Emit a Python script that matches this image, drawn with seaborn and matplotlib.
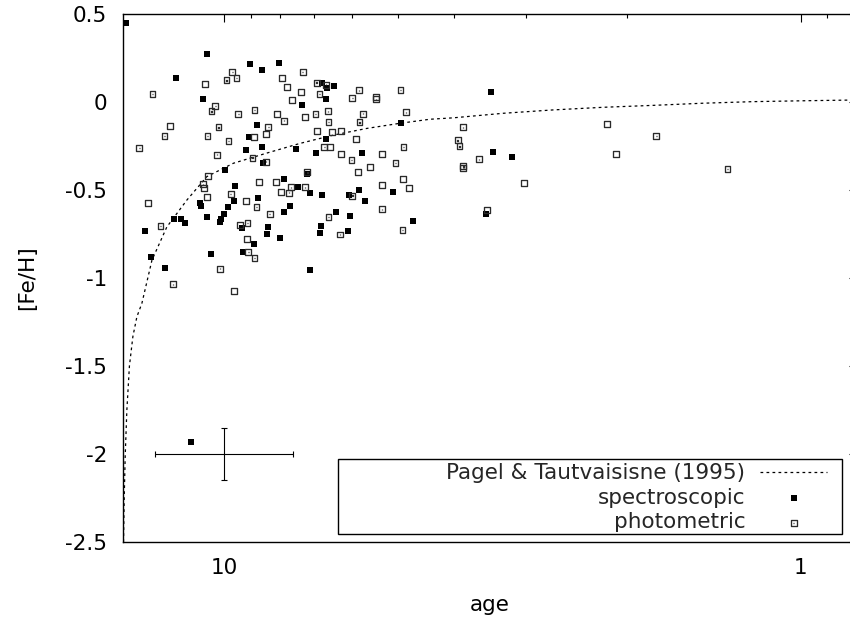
import numpy as np
import pandas as pd
import matplotlib
matplotlib.use("Agg")
import matplotlib.pyplot as plt
import seaborn as sns
from matplotlib.path import Path
from matplotlib.patches import Rectangle
from matplotlib.ticker import FixedLocator, FuncFormatter, NullFormatter

# ---------------- data ----------------
spec_age = [14.81, 10.73, 9.04, 8.60, 8.04, 12.13, 6.77, 6.63, 6.46, 10.90, 6.66, 7.33,
            8.79, 9.07, 6.66, 8.60, 9.17, 7.51, 6.93, 5.78, 8.57, 9.97, 7.18, 7.89,
            4.93, 9.58, 8.75, 7.46, 7.10, 6.78, 6.08, 5.85, 5.70, 5.10, 11.03, 10.99,
            9.63, 9.87, 7.89, 7.70, 10.02, 10.14, 10.19, 10.72, 12.24, 11.90, 11.71, 6.41,
            6.06, 4.71, 13.74, 9.32, 8.40, 8.44, 8.02, 6.80, 6.83, 6.11, 8.89, 9.29,
            10.56, 13.40, 12.69, 7.10, 11.43, 3.45, 3.42, 3.17, 3.52]
spec_feh = [0.45, 0.27, 0.214, 0.184, 0.22, 0.138, 0.11, 0.08, 0.093, 0.019, 0.019, -0.015,
            -0.129, -0.197, -0.209, -0.254, -0.271, -0.265, -0.288, -0.288, -0.345, -0.385, -0.409, -0.436,
            -0.118, -0.476, -0.544, -0.481, -0.519, -0.527, -0.527, -0.498, -0.561, -0.51, -0.572, -0.589,
            -0.561, -0.595, -0.623, -0.589, -0.635, -0.663, -0.68, -0.652, -0.663, -0.663, -0.686, -0.623,
            -0.646, -0.674, -0.731, -0.714, -0.709, -0.748, -0.771, -0.703, -0.743, -0.731, -0.805, -0.851,
            -0.862, -0.879, -0.941, -0.953, -1.93, 0.059, -0.282, -0.311, -0.635]

phot_age = [13.33, 14.05, 12.44, 12.71, 13.57, 12.91, 12.27, 10.81, 9.69, 9.92, 9.53, 10.53,
            10.37, 10.24, 10.70, 9.84, 10.30, 9.46, 8.87, 8.39, 8.48, 8.88, 8.94, 8.48,
            10.67, 10.89, 10.84, 10.72, 9.76, 9.18, 8.80, 8.35, 8.71, 8.13, 7.98, 7.73,
            7.66, 7.24, 7.18, 9.39, 9.12, 9.14, 9.09, 8.87, 10.19, 9.63, 7.94, 7.32,
            7.79, 7.63, 7.36, 8.11, 7.88, 7.24, 6.95, 6.92, 6.66, 6.84, 6.62, 6.60,
            6.91, 6.50, 6.27, 6.71, 6.56, 6.27, 6.02, 5.87, 5.59, 6.00, 5.84, 5.46,
            5.46, 5.75, 5.83, 5.92, 5.33, 5.05, 4.95, 4.84, 4.89, 5.33, 4.90, 4.79,
            5.33, 6.00, 6.60, 6.31, 4.91, 3.86, 3.94, 3.91, 3.62, 3.85, 3.85, 3.02,
            3.50, 2.17, 2.09, 1.78, 1.34]
phot_feh = [0.044, -0.26, -0.138, -0.193, -0.574, -0.703, -1.036, 0.101, 0.169, 0.123, 0.138, -0.053,
            -0.023, -0.144, -0.195, -0.22, -0.299, -0.07, -0.047, -0.142, -0.182, -0.199, -0.316, -0.339,
            -0.422, -0.468, -0.49, -0.538, -0.521, -0.561, -0.597, -0.638, -0.455, -0.453, -0.51, -0.515,
            -0.485, -0.485, -0.40, -0.70, -0.689, -0.777, -0.851, -0.888, -0.947, -1.074, 0.136, 0.17,
            0.084, 0.011, 0.055, -0.07, -0.106, -0.087, -0.07, 0.11, 0.099, 0.044, -0.053, -0.115,
            -0.165, -0.172, -0.166, -0.254, -0.254, -0.295, -0.33, -0.398, -0.368, 0.024, 0.066, 0.028,
            0.015, -0.066, -0.116, -0.212, -0.295, -0.348, 0.068, -0.059, -0.256, -0.472, -0.439, -0.487,
            -0.61, -0.532, -0.653, -0.753, -0.726, -0.144, -0.218, -0.252, -0.326, -0.366, -0.375, -0.459,
            -0.612, -0.125, -0.295, -0.195, -0.382]

model_age = [14.97, 14.93, 14.87, 14.77, 14.62, 14.42, 14.19, 13.91, 13.36, 12.59, 11.62, 10.73,
             9.65, 8.44, 7.39, 6.47, 5.66, 4.96, 4.40, 4.01, 3.28, 2.69, 2.20, 1.80,
             1.48, 1.21, 0.99, 0.82, 0.80]
model_feh = [-2.50, -2.26, -2.015, -1.75, -1.50, -1.333, -1.22, -1.144, -0.898, -0.71, -0.557, -0.424,
             -0.348, -0.29, -0.235, -0.188, -0.15, -0.121, -0.098, -0.09, -0.064, -0.045, -0.030, -0.019,
             -0.007, 0.002, 0.007, 0.011, 0.012]

err_age = [10.0]
err_feh = [-2.0]
err_age_lo = [2.41]
err_age_hi = [3.19]
err_feh_pm = [0.15]

x_major = [10, 1]
x_minor = [9, 8, 7, 6, 5, 4, 3, 2, 0.9, 0.8]
y_ticks = [0.5, 0, -0.5, -1, -1.5, -2, -2.5]

label_model = "Pagel & Tautvaisisne (1995)"
label_spec = "spectroscopic"
label_phot = "photometric"

# ---------------- style ----------------
sns.set_style("white")
plt.rcParams["font.family"] = ["DejaVu Sans"]
plt.rcParams["font.size"] = 15.5
plt.rcParams["axes.unicode_minus"] = False

W, H = 850, 621
fig = plt.figure(figsize=(W / 100, H / 100), dpi=100)
fig.patch.set_facecolor("white")
ax_l, ax_r, ax_t, ax_b = 123, 856.6, 14, 542
ax = fig.add_axes([ax_l / W, (H - ax_b) / H, (ax_r - ax_l) / W, (ax_b - ax_t) / H])
ax.set_facecolor("white")

# open square with a centre dot (gnuplot style)
box_dot = Path(
    [(-1, -1), (1, -1), (1, 1), (-1, 1), (-1, -1),
     (-0.06, -0.06), (0.06, -0.06), (0.06, 0.06), (-0.06, 0.06), (-0.06, -0.06)],
    [Path.MOVETO, Path.LINETO, Path.LINETO, Path.LINETO, Path.CLOSEPOLY,
     Path.MOVETO, Path.LINETO, Path.LINETO, Path.LINETO, Path.CLOSEPOLY])

model_df = pd.DataFrame({"age": model_age, "feh": model_feh})
spec_df = pd.DataFrame({"age": spec_age, "feh": spec_feh})
phot_df = pd.DataFrame({"age": phot_age, "feh": phot_feh})

sns.lineplot(data=model_df, x="age", y="feh", ax=ax, estimator=None, sort=False,
             color="black", linewidth=0.9, linestyle=(0, (2.2, 2.6)), label=label_model, zorder=2)
sns.scatterplot(data=spec_df, x="age", y="feh", ax=ax, marker="s", s=19, color="black",
                linewidth=0, label=label_spec, zorder=3)
sns.scatterplot(data=phot_df, x="age", y="feh", ax=ax, marker=box_dot, s=18,
                facecolor="none", edgecolor="#2a2a2a", linewidth=0.95, label=label_phot, zorder=4)

ax.errorbar(err_age, err_feh, xerr=[err_age_lo, err_age_hi], yerr=err_feh_pm,
            fmt="none", ecolor="black", elinewidth=0.8, capsize=2.4, capthick=0.8, zorder=3)

ax.set_xscale("log")
ax.set_xlim(15, 0.8)
ax.set_ylim(-2.5, 0.5)
ax.xaxis.set_major_locator(FixedLocator(x_major))
ax.xaxis.set_minor_locator(FixedLocator(x_minor))
ax.xaxis.set_major_formatter(FuncFormatter(lambda v, p: "%g" % v))
ax.xaxis.set_minor_formatter(NullFormatter())
ax.yaxis.set_major_locator(FixedLocator(y_ticks))
ax.yaxis.set_major_formatter(FuncFormatter(lambda v, p: "%g" % v))

ax.tick_params(which="both", direction="in", top=True, right=True, color="black",
               labelcolor="black", width=0.8)
ax.tick_params(which="major", length=5.5, pad=11.3, labelsize=15.5)
ax.tick_params(which="minor", length=3.0)

for s in ax.spines.values():
    s.set_color("black")
    s.set_linewidth(1.0)

ax.set_xlabel("age", fontsize=15.5, labelpad=12.5, color="black")
ax.set_ylabel("[Fe/H]", fontsize=15.5, labelpad=20.5, color="black")

# key box and key
frame = Rectangle((0.2931, 0.01515), 0.6870, 0.1420, transform=ax.transAxes,
                  facecolor="white", edgecolor="black", linewidth=1.0, zorder=5)
ax.add_patch(frame)
handles, labels = ax.get_legend_handles_labels()
leg = ax.legend(handles, labels, loc="lower right", bbox_to_anchor=(0.9597, 0.0182),
                frameon=False, markerfirst=False, handlelength=3.1, handletextpad=0.7,
                borderpad=0, borderaxespad=0, labelspacing=0.21, scatterpoints=1, numpoints=1,
                fontsize=15.5)
leg.set_zorder(6)

fig.savefig("out.png", dpi=100, facecolor="white")
